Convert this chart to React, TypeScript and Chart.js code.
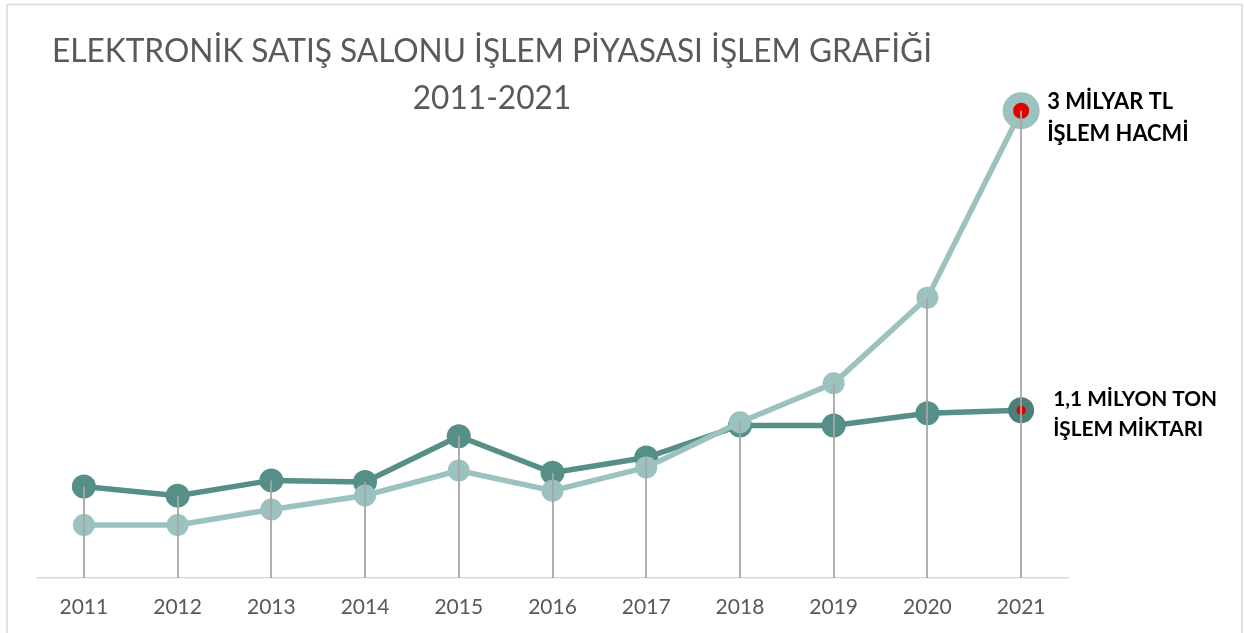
import React, { useEffect, useRef } from 'react';
import { Chart, registerables } from 'chart.js';

Chart.register(...registerables);

const years = ['2011', '2012', '2013', '2014', '2015', '2016', '2017', '2018', '2019', '2020', '2021'];
// İşlem hacmi (milyar TL)
const hacimMilyarTL = [0.34, 0.34, 0.44, 0.53, 0.69, 0.56, 0.71, 1.0, 1.25, 1.8, 3.0];
// İşlem miktarı (milyon ton)
const miktarMilyonTon = [0.6, 0.54, 0.64, 0.63, 0.93, 0.69, 0.79, 1.0, 1.0, 1.08, 1.1];

const titleLines = ['ELEKTRONİK SATIŞ SALONU İŞLEM PİYASASI İŞLEM GRAFİĞİ', '2011-2021'];
const hacimLabel = ['3 MİLYAR TL', 'İŞLEM HACMİ'];
const miktarLabel = ['1,1 MİLYON TON', 'İŞLEM MİKTARI'];

const DARK = '#558f88';
const DARK_LAST = '#4b7f78';
const LIGHT = '#9bc2be';
const RED = '#e00000';
const FONT = 'Lato, "Open Sans", sans-serif';
const CAP = 0.7165;

// draw text whose cap height is capH and whose first-line width is target (horizontal squeeze)
function drawBlock(
  ctx: CanvasRenderingContext2D,
  lines: string[],
  weight: string,
  capH: number,
  target: number,
  x: number,
  baselines: number[],
  align: 'left' | 'center',
) {
  const size = capH / CAP;
  ctx.font = `${weight} ${size}px ${FONT}`;
  const w = ctx.measureText(lines[0]).width;
  const sx = target / w;
  lines.forEach((line, i) => {
    ctx.save();
    ctx.translate(x, baselines[i]);
    ctx.scale(sx, 1);
    ctx.textAlign = align;
    ctx.textBaseline = 'alphabetic';
    ctx.fillText(line, 0, 0);
    ctx.restore();
  });
}

const decorPlugin = {
  id: 'decor',
  beforeDraw(chart: any) {
    const ctx = chart.ctx as CanvasRenderingContext2D;
    ctx.save();
    ctx.strokeStyle = '#d9d9d9';
    ctx.lineWidth = 1.5;
    ctx.strokeRect(7, 4.5, 1235, 700);
    ctx.restore();
  },
  afterDatasetsDraw(chart: any) {
    const ctx = chart.ctx as CanvasRenderingContext2D;
    const bottom = chart.chartArea.bottom;
    const metas = chart.getSortedVisibleDatasetMetas();
    ctx.save();
    ctx.strokeStyle = '#a6a6a6';
    ctx.lineWidth = 1.8;
    for (let i = 0; i < years.length; i++) {
      let top = Infinity;
      let x = 0;
      metas.forEach((m: any) => {
        const el = m.data[i];
        if (el) {
          top = Math.min(top, el.y);
          x = el.x;
        }
      });
      ctx.beginPath();
      ctx.moveTo(Math.round(x), top);
      ctx.lineTo(Math.round(x), bottom);
      ctx.stroke();
    }
    ctx.restore();
  },
  afterDraw(chart: any) {
    const ctx = chart.ctx as CanvasRenderingContext2D;
    ctx.save();
    ctx.fillStyle = '#595959';
    drawBlock(ctx, titleLines, '400', 23.5, 880, 492, [62, 109], 'center');

    ctx.fillStyle = '#000000';
    const last = years.length - 1;
    const lightEl = chart.getDatasetMeta(0).data[last];
    const darkEl = chart.getDatasetMeta(1).data[last];
    drawBlock(ctx, hacimLabel, '700', 16, 126, lightEl.x + 26, [lightEl.y - 2, lightEl.y + 30], 'left');
    drawBlock(ctx, miktarLabel, '700', 15.5, 164, darkEl.x + 32, [darkEl.y - 4, darkEl.y + 26], 'left');
    ctx.restore();
  },
};

export default function App() {
  const canvasRef = useRef<HTMLCanvasElement | null>(null);

  useEffect(() => {
    document.body.style.margin = '0';
    const canvas = canvasRef.current;
    if (!canvas) return;
    const n = years.length;
    const chart = new Chart(canvas, {
      type: 'line',
      data: {
        labels: years,
        datasets: [
          {
            label: 'İşlem Hacmi',
            data: hacimMilyarTL,
            yAxisID: 'y',
            borderColor: LIGHT,
            borderWidth: 5.5,
            tension: 0,
            pointRadius: years.map((_, i) => (i === n - 1 ? 13.25 : 11)),
            pointBorderWidth: years.map((_, i) => (i === n - 1 ? 10.5 : 0)),
            pointBackgroundColor: years.map((_, i) => (i === n - 1 ? RED : LIGHT)),
            pointBorderColor: LIGHT,
            clip: false,
          },
          {
            label: 'İşlem Miktarı',
            data: miktarMilyonTon,
            yAxisID: 'y1',
            borderColor: DARK,
            borderWidth: 5.5,
            tension: 0,
            pointRadius: years.map((_, i) => (i === n - 1 ? 8.85 : 12)),
            pointBorderWidth: years.map((_, i) => (i === n - 1 ? 8.3 : 0)),
            pointBackgroundColor: years.map((_, i) => (i === n - 1 ? RED : DARK)),
            pointBorderColor: years.map((_, i) => (i === n - 1 ? DARK_LAST : DARK)),
            clip: false,
          },
        ],
      },
      options: {
        animation: false,
        responsive: false,
        events: [],
        layout: { padding: { left: 37, right: 176, top: 64, bottom: 0 } },
        plugins: {
          legend: { display: false },
          tooltip: { enabled: false },
          title: { display: false },
        },
        scales: {
          x: {
            offset: true,
            grid: { display: false, drawTicks: false },
            border: { display: true, color: '#d9d9d9', width: 1.5 },
            ticks: {
              padding: 17,
              color: '#595959',
              font: { family: FONT, size: 21 },
              maxRotation: 0,
            },
            afterFit: (s: any) => {
              s.height = 55;
            },
          },
          y: { display: false, min: 0, max: 3.3 },
          y1: { display: false, min: 0, max: 3.37, position: 'right' },
        },
      },
      plugins: [decorPlugin],
    });
    return () => chart.destroy();
  }, []);

  return (
    <div style={{ width: 1244, height: 633 }}>
      <canvas ref={canvasRef} width={1244} height={633} style={{ display: 'block' }} />
    </div>
  );
}
